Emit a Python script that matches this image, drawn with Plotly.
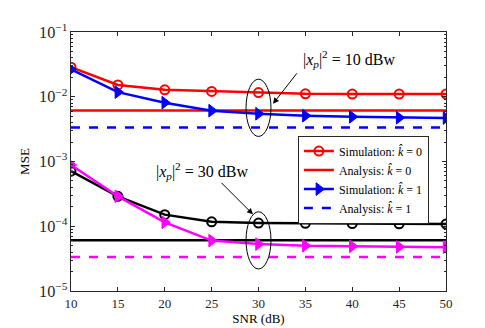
import plotly.graph_objects as go

snr = [10, 15, 20, 25, 30, 35, 40, 45, 50]

# |x_p|^2 = 10 dBw
sim_k0_10 = [0.0286, 0.0152, 0.0128, 0.0121, 0.0116, 0.0111, 0.0110, 0.0110, 0.0110]
ana_k0_10 = 0.00612
sim_k1_10 = [0.0264, 0.0118, 0.0081, 0.0061, 0.00546, 0.0051, 0.0049, 0.00475, 0.0047]
ana_k1_10 = 0.00336

# |x_p|^2 = 30 dBw
sim_k0_30 = [7.1e-4, 2.9e-4, 1.51e-4, 1.17e-4, 1.12e-4, 1.11e-4, 1.10e-4, 1.09e-4, 1.08e-4]
ana_k0_30 = 6.08e-5
sim_k1_30 = [8.8e-4, 2.9e-4, 1.15e-4, 6.0e-5, 5.3e-5, 5.0e-5, 4.9e-5, 4.8e-5, 4.75e-5]
ana_k1_30 = 3.34e-5

FONT = "Liberation Serif"
fig = go.Figure()

def sim(y, color, symbol, name, show):
    if symbol == "circle-open":
        mk = dict(symbol=symbol, size=9, color=color, line=dict(width=2, color=color))
    else:
        mk = dict(symbol=symbol, size=11, color=color, line=dict(width=1, color=color))
    fig.add_trace(go.Scatter(x=snr, y=y, mode="lines+markers", name=name,
                             line=dict(color=color, width=2.5), marker=mk,
                             showlegend=show))

def ana(v, color, dash, name, show):
    fig.add_trace(go.Scatter(x=snr, y=[v] * len(snr), mode="lines", name=name,
                             line=dict(color=color, width=2.5, dash=dash),
                             showlegend=show))

sim(sim_k0_10, "#ff0000", "circle-open", "Simulation: <i>k̂</i> = 0", True)
ana(ana_k0_10, "#ff0000", "solid", "Analysis: <i>k̂</i> = 0", True)
sim(sim_k1_10, "#0000ff", "triangle-right", "Simulation: <i>k̂</i> = 1", True)
ana(ana_k1_10, "#0000ff", "dash", "Analysis: <i>k̂</i> = 1", True)
sim(sim_k0_30, "#000000", "circle-open", "k0 30", False)
ana(ana_k0_30, "#000000", "solid", "a0 30", False)
sim(sim_k1_30, "#ff00ff", "triangle-right", "k1 30", False)
ana(ana_k1_30, "#ff00ff", "dash", "a1 30", False)

# ellipses around SNR = 30
fig.add_shape(type="circle", xref="x", yref="y", x0=28.67, x1=31.33,
              y0=10 ** -2.613, y1=10 ** -1.729, line=dict(color="black", width=1))
fig.add_shape(type="circle", xref="x", yref="y", x0=28.67, x1=31.33,
              y0=10 ** -4.66, y1=10 ** -3.776, line=dict(color="black", width=1))

lab = "|<i>x</i><sub><i>p</i></sub>|<sup>2</sup> = {} dBw"
fig.add_annotation(x=31.55, y=-2.109, ax=25, ay=-32, text="", showarrow=True,
                   arrowhead=2, arrowsize=1.2, arrowwidth=1, arrowcolor="black")
fig.add_annotation(x=39.6, y=-1.42, text=lab.format(10), showarrow=False,
                   font=dict(family=FONT, size=16, color="black"))
fig.add_annotation(x=29.41, y=-3.816, ax=-33, ay=-33, text="", showarrow=True,
                   arrowhead=2, arrowsize=1.2, arrowwidth=1, arrowcolor="black")
fig.add_annotation(x=24.0, y=-3.142, text=lab.format(30), showarrow=False,
                   font=dict(family=FONT, size=16, color="black"))

axcol = "#262626"
fig.update_xaxes(range=[10, 50], tickvals=snr, ticks="inside", ticklen=4,
                 showline=True, linecolor=axcol, linewidth=1, mirror="allticks",
                 showgrid=False, zeroline=False, tickcolor=axcol,
                 title=dict(text="SNR (dB)", standoff=4, font=dict(family=FONT, size=13)),
                 tickfont=dict(family=FONT, size=13, color=axcol))
fig.update_yaxes(type="log", range=[-5, -1], dtick=1, exponentformat="power",
                 ticks="inside", ticklen=4, showline=True, linecolor=axcol, linewidth=1,
                 mirror="allticks", showgrid=False, zeroline=False, tickcolor=axcol,
                 minor=dict(ticks="inside", ticklen=2, tickcolor=axcol, showgrid=False),
                 title=dict(text="MSE", standoff=6, font=dict(family=FONT, size=13)),
                 tickfont=dict(family=FONT, size=13, color=axcol))

fig.update_layout(
    width=485, height=328,
    margin=dict(l=63, r=47, t=24, b=37),
    plot_bgcolor="white", paper_bgcolor="white",
    font=dict(family=FONT, size=13, color="black"),
    legend=dict(x=0.605, y=0.60, xanchor="left", yanchor="top",
                bgcolor="white", bordercolor=axcol, borderwidth=1,
                font=dict(family=FONT, size=12), tracegroupgap=0,
                itemwidth=30),
)

fig.write_html("out.html")
